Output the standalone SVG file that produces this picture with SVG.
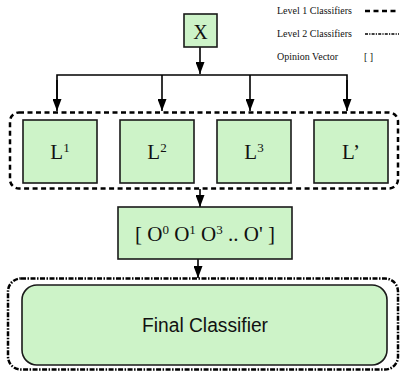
<svg xmlns="http://www.w3.org/2000/svg" width="401" height="373" viewBox="0 0 401 373">
<style>
.box{fill:#cdf3c8;stroke:#1a1a1a;stroke-width:1.6}
.serif{font-family:"Liberation Serif","DejaVu Serif",serif;fill:#111}
.sans{font-family:"Liberation Sans","DejaVu Sans",sans-serif;fill:#111}
.conn{stroke:#000;stroke-width:1.6;fill:none}
.lvl1{fill:none;stroke:#000;stroke-width:2.5;stroke-dasharray:5 3.5}
.lvl2{fill:none;stroke:#000;stroke-width:2.5;stroke-dasharray:5 1.5 1.5 1.5}
.sup{font-size:13px}
</style>
<defs>
<marker id="ah" markerWidth="12" markerHeight="9" refX="12" refY="4.5" orient="auto" markerUnits="userSpaceOnUse" viewBox="0 0 12 9">
<path d="M0,0 L12,4.5 L0,9 z" fill="#000"/>
</marker>
</defs>
<rect width="401" height="373" fill="#fff"/>
<g id="legend">
<text class="serif" x="277" y="14" font-size="10">Level 1 Classifiers</text>
<line x1="365" y1="11" x2="399" y2="11" stroke="#000" stroke-width="2.5" stroke-dasharray="5 3.5"/>
<text class="serif" x="277" y="37" font-size="10">Level 2 Classifiers</text>
<line x1="365" y1="34" x2="399" y2="34" stroke="#000" stroke-width="1.5" stroke-dasharray="3 1.2 1.2 1.2"/>
<text class="serif" x="277" y="60" font-size="10">Opinion Vector</text>
<text class="serif" x="364" y="60" font-size="10">[ ]</text>
</g>
<g id="level1-group"><rect class="lvl1" x="10" y="112.5" width="388" height="76" rx="9"/></g>
<g id="level2-group"><rect class="lvl2" x="8" y="278.5" width="390" height="91" rx="13"/></g>
<g id="connectors">
<line class="conn" x1="200" y1="47" x2="200" y2="74" marker-end="url(#ah)"/>
<polyline class="conn" points="57,100 57,75 347,75 347,100"/>
<line class="conn" x1="57" y1="80" x2="57" y2="111" marker-end="url(#ah)"/>
<line class="conn" x1="162" y1="75" x2="162" y2="111" marker-end="url(#ah)"/>
<line class="conn" x1="250" y1="75" x2="250" y2="111" marker-end="url(#ah)"/>
<line class="conn" x1="347" y1="80" x2="347" y2="111" marker-end="url(#ah)"/>
<line class="conn" x1="200" y1="189" x2="200" y2="207" marker-end="url(#ah)"/>
<line class="conn" x1="198" y1="259" x2="198" y2="278" marker-end="url(#ah)"/>
</g>
<g id="X"><rect class="box" x="184" y="14" width="33" height="33"/><text class="serif" x="200.5" y="38.5" font-size="20" text-anchor="middle">X</text></g>
<g id="L1"><rect class="box" x="23" y="120" width="74" height="63"/><text class="serif" x="60" y="159" font-size="21" text-anchor="middle">L<tspan class="sup" dy="-7">1</tspan></text></g>
<g id="L2"><rect class="box" x="120" y="120" width="74" height="63"/><text class="serif" x="157" y="159" font-size="21" text-anchor="middle">L<tspan class="sup" dy="-7">2</tspan></text></g>
<g id="L3"><rect class="box" x="217" y="120" width="74" height="63"/><text class="serif" x="254" y="159" font-size="21" text-anchor="middle">L<tspan class="sup" dy="-7">3</tspan></text></g>
<g id="Lp"><rect class="box" x="314" y="120" width="74" height="63"/><text class="serif" x="351" y="159" font-size="21" text-anchor="middle">L’</text></g>
<g id="opinion"><rect class="box" x="118" y="207" width="174" height="52"/><text class="serif" x="205" y="241" font-size="21" text-anchor="middle">[ O<tspan class="sup" dy="-7">0</tspan><tspan dy="7"> O</tspan><tspan class="sup" dy="-7">1</tspan><tspan dy="7"> O</tspan><tspan class="sup" dy="-7">3</tspan><tspan dy="7"> .. O' ]</tspan></text></g>
<g id="final"><rect class="box" x="22" y="285" width="365" height="80" rx="15"/><text class="sans" x="205" y="332" font-size="20" text-anchor="middle" textLength="126" lengthAdjust="spacingAndGlyphs">Final Classifier</text></g>
</svg>
